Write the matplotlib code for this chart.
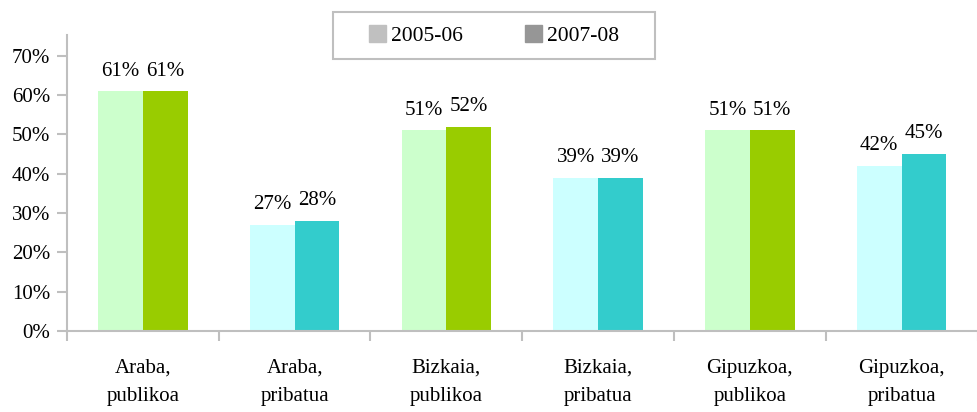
import numpy as np
from matplotlib import pyplot as plt
from matplotlib.patches import Patch, Rectangle

plt.rcParams['font.family'] = ['Liberation Serif', 'DejaVu Serif']

# Data
categories = ['Araba,\npublikoa', 'Araba,\npribatua', 'Bizkaia,\npublikoa',
              'Bizkaia,\npribatua', 'Gipuzkoa,\npublikoa', 'Gipuzkoa,\npribatua']
v_2005 = [0.61, 0.27, 0.51, 0.39, 0.51, 0.42]
v_2007 = [0.61, 0.28, 0.52, 0.39, 0.51, 0.45]
series_names = ['2005-06', '2007-08']

light_cols = ['#CCFFCC', '#CCFFFF'] * 3
dark_cols = ['#99CC00', '#33CCCC'] * 3

fs = 15

fig = plt.figure(figsize=(9.78, 4.12), dpi=100)
ax = fig.add_axes([0.0685, 0.197, 0.931, 0.718])

x = np.arange(len(categories))
w = 0.295
b1 = ax.bar(x - w/2, v_2005, w, color=light_cols)
b2 = ax.bar(x + w/2, v_2007, w, color=dark_cols)

for bars, vals in ((b1, v_2005), (b2, v_2007)):
    for r, v in zip(bars, vals):
        ax.text(r.get_x() + r.get_width()/2, v + 0.027, '%d%%' % round(v*100),
                ha='center', va='bottom', fontsize=fs)

ax.set_xlim(-0.5, len(categories) - 0.5)
ax.set_ylim(0, 0.753)
ax.set_yticks(np.arange(0, 0.71, 0.1))
ax.set_yticklabels(['%d%%' % (t*100) for t in np.arange(0, 0.71, 0.1).round(2)], fontsize=fs)

# category labels centred, tick marks between categories
ax.set_xticks(x)
ax.set_xticklabels(categories, fontsize=fs, linespacing=1.65)
ax.tick_params(axis='x', length=0, pad=20)
ax.set_xticks(np.arange(-0.5, len(categories)), minor=True)
ax.tick_params(axis='x', which='minor', length=7, width=1.5, color='#BFBFBF')
ax.tick_params(axis='y', length=7, width=1.5, color='#BFBFBF', pad=5)

for s in ['top', 'right']:
    ax.spines[s].set_visible(False)
for s in ['left', 'bottom']:
    ax.spines[s].set_color('#BFBFBF')
    ax.spines[s].set_linewidth(1.5)

# legend (gray swatches) inside a wider box
handles = [Patch(color='#C0C0C0'), Patch(color='#969696')]
fig.legend(handles, series_names, loc='center', bbox_to_anchor=(0.505, 0.914),
           ncol=2, fontsize=15.5, frameon=False,
           handlelength=0.8, handleheight=0.8, handletextpad=0.2,
           columnspacing=2.9, borderaxespad=0)
fig.patches.append(Rectangle((0.341, 0.857), 0.329, 0.114, transform=fig.transFigure,
                             fill=False, edgecolor='#BFBFBF', linewidth=1.5))

fig.savefig('out.png', dpi=100)
